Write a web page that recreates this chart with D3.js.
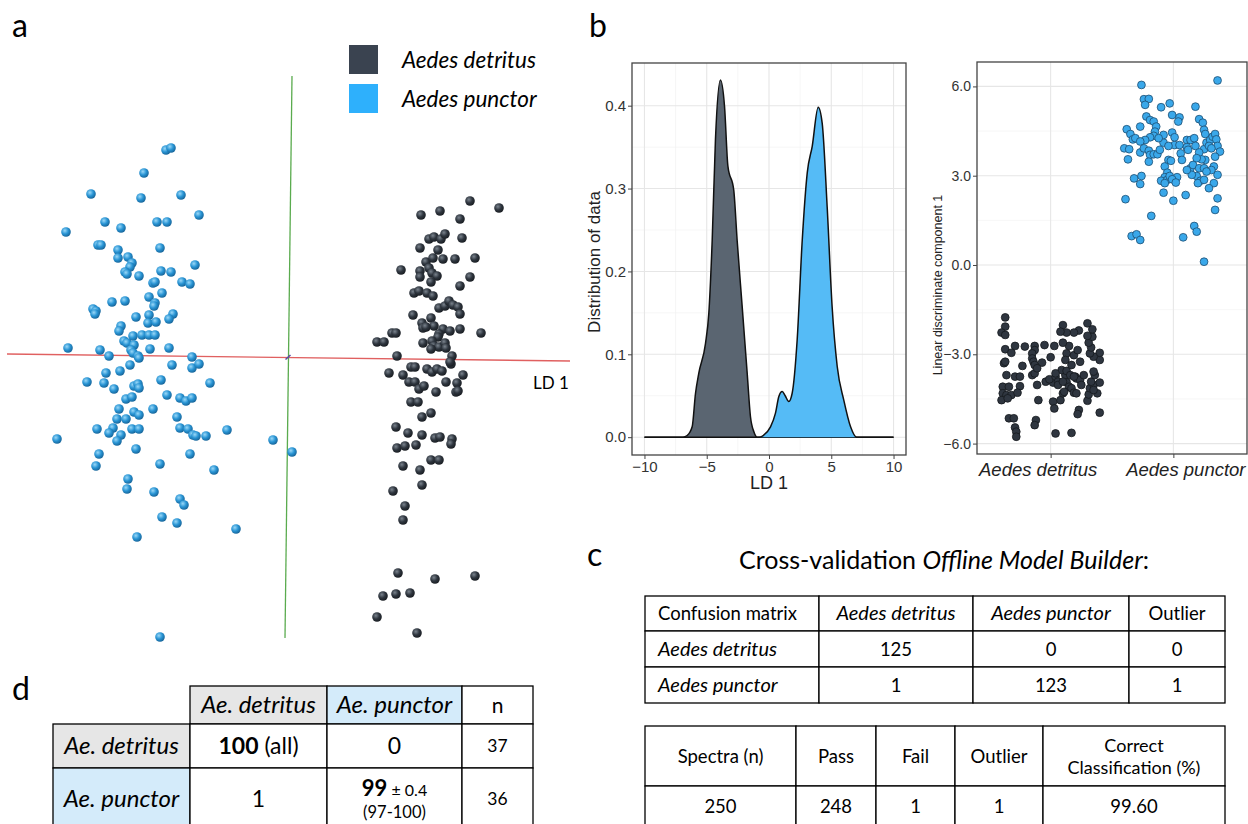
<!DOCTYPE html>
<html>
<head>
<meta charset="utf-8">
<script src="https://cdn.jsdelivr.net/npm/d3@7"></script>
<style>
body{margin:0;background:#fff}
svg{display:block}
.cal{font-family:Lato, "Open Sans", sans-serif}
.gg{font-family:"Liberation Sans", Arial, sans-serif}
</style>
</head>
<body>
<svg id="fig" width="1248" height="824"></svg>
<script>
// ---- data ----
const species = ["Aedes detritus", "Aedes punctor"]

// panel a: 3D LDA view, [LD1 projection, LD2 projection]
const puncLD3d = [[-12.2,20.7],[-11.7,20.9],[-14.4,18.4],[-19.7,16.3],[-14.7,15.9],[-10.7,16.2],[-8.9,14.2],[-18.3,13.5],[-13.1,13.5],[-12.1,13.5],
  [-16.7,12.9],[-22.2,12.5],[-19.0,11.2],[-18.7,11.2],[-12.8,10.9],[-17.0,10.7],[-17.0,9.9],[-16.0,10.0],[-15.6,9.4],[-15.8,9.0],
  [-16.3,8.5],[-16.1,8.3],[-14.9,8.1],[-12.7,8.6],[-11.7,8.5],[-9.3,9.2],[-10.6,7.5],[-9.8,7.3],[-13.5,7.4],[-13.3,7.5],
  [-12.6,6.4],[-13.9,6.0],[-17.6,5.5],[-16.3,5.6],[-13.3,5.4],[-13.4,5.1],[-19.5,4.8],[-19.2,4.6],[-19.3,4.3],[-15.2,4.0],
  [-13.9,4.2],[-14.0,3.4],[-13.2,3.5],[-11.5,4.3],[-11.9,3.8],[-16.7,3.1],[-16.9,2.6],[-15.5,2.1],[-14.6,2.2],[-13.9,2.2],
  [-13.3,2.2],[-16.4,1.6],[-16.1,1.4],[-15.4,1.2],[-22.0,0.9],[-18.8,0.7],[-13.8,0.8],[-11.9,0.9],[-15.7,0.7],[-15.5,0.4],
  [-15.0,0.1],[-14.9,-0.1],[-17.9,0.1],[-9.6,0.0],[-15.8,-0.8],[-11.6,-0.8],[-9.6,-1.1],[-8.9,-0.7],[-18.2,-1.6],[-16.8,-1.4],
  [-20.1,-2.5],[-18.4,-2.6],[-17.4,-3.2],[-15.4,-2.9],[-15.0,-2.7],[-14.9,-3.1],[-12.7,-2.3],[-7.8,-2.6],[-12.1,-3.8],[-16.2,-4.2],
  [-15.6,-4.0],[-10.8,-4.1],[-10.2,-4.4],[-9.6,-4.1],[-16.9,-5.2],[-15.4,-5.5],[-14.9,-5.8],[-13.5,-5.2],[-17.1,-6.2],[-16.2,-6.2],
  [-11.1,-6.0],[-19.1,-7.2],[-17.5,-7.1],[-17.9,-7.6],[-15.6,-7.2],[-14.9,-7.2],[-10.8,-7.1],[-10.0,-7.2],[-9.5,-7.8],[-9.2,-7.9],
  [-8.2,-7.9],[-6.1,-7.3],[-16.7,-7.8],[-17.1,-8.4],[-23.1,-8.2],[-1.5,-8.3],[0.4,-9.5],[-15.2,-9.2],[-18.9,-9.7],[-9.8,-9.7],
  [-19.2,-10.9],[-12.8,-10.7],[-7.4,-11.3],[-16.0,-12.2],[-16.1,-13.2],[-13.4,-13.5],[-10.8,-14.2],[-10.4,-14.8],[-12.6,-16.0],[-11.1,-16.6],
  [-5.2,-17.2],[-15.1,-18.0],[-12.8,-28.0]]
const detrLD3d = [[18.2,15.6],[21.1,14.9],[13.3,14.2],[15.2,14.6],[17.2,13.8],[14.1,11.8],[14.6,12.0],[15.3,11.8],[15.7,12.3],[17.4,11.9],
  [13.2,10.9],[15.0,10.7],[13.8,9.5],[14.5,9.9],[15.5,9.8],[16.7,9.8],[18.7,9.9],[11.3,8.7],[13.2,8.6],[13.2,8.0],
  [14.1,8.9],[14.4,8.4],[14.9,8.1],[14.3,7.5],[18.2,8.0],[17.2,7.1],[12.6,6.4],[13.1,6.6],[13.9,6.4],[14.5,6.1],
  [15.1,4.9],[15.7,5.1],[16.1,5.6],[16.5,5.2],[17.0,5.0],[17.2,4.3],[12.5,4.2],[14.3,3.9],[13.4,3.4],[13.5,2.9],
  [14.6,3.1],[13.8,3.0],[15.5,2.8],[16.2,2.6],[15.1,2.3],[15.0,2.0],[17.2,2.8],[19.3,2.4],[10.4,2.4],[10.8,2.4],
  [8.9,1.5],[9.6,1.5],[13.5,1.4],[14.4,1.6],[14.6,1.1],[15.1,1.0],[15.7,1.4],[15.8,0.9],[14.3,0.8],[10.9,0.1],
  [16.4,0.1],[12.3,-1.0],[12.7,-1.0],[16.3,-0.7],[16.2,-0.5],[13.9,-1.2],[14.4,-1.5],[14.9,-1.2],[15.4,-1.4],[17.5,-1.8],
  [10.1,-1.6],[11.5,-1.8],[12.1,-2.5],[12.7,-2.5],[13.1,-3.2],[13.6,-2.9],[14.8,-3.5],[15.8,-2.5],[16.9,-2.6],[16.8,-3.5],
  [17.0,-3.4],[12.3,-4.5],[13.0,-4.5],[13.4,-6.0],[14.3,-5.6],[10.8,-7.0],[12.0,-7.6],[13.4,-7.8],[14.7,-8.1],[15.2,-8.0],
  [16.4,-8.2],[16.3,-8.7],[10.9,-9.1],[11.7,-8.9],[12.8,-8.8],[14.3,-10.3],[15.1,-10.3],[11.5,-10.9],[13.2,-11.3],[13.4,-12.8],
  [10.5,-13.4],[11.7,-14.9],[11.5,-16.3],[11.0,-21.6],[14.7,-22.2],[18.7,-21.9],[9.5,-23.9],[10.8,-23.7],[12.2,-23.6],[8.9,-26.0],
  [12.9,-27.6]]
// projected axes of the 3D view (LD1 red, LD2 green)
const axisLD1 = [[-28.1,0.3],[28.2,-0.4]]
const axisLD2 = [[0.4,28.1],[-0.3,-28.1]]

// panel b: density of LD 1, [LD1, density]
const detrDensity = [[-10,0],[-6.9,0],[-6.57,0.002],[-6.17,0.0125],[-5.9,0.053],[-5.64,0.077],[-5.1,0.113],[-4.83,0.15],[-4.56,0.238],
  [-4.3,0.359],[-3.9,0.431],[-3.57,0.399],[-3.3,0.327],[-2.83,0.298],[-2.56,0.238],[-2.15,0.157],[-1.75,0.077],[-1.49,0.025],
  [-1.2,0.006],[-0.95,0],[10,0]]
const puncDensity = [[-10,0],[-0.8,0],[-0.47,0.002],[0.12,0.0125],[0.52,0.029],[0.79,0.049],[1.06,0.055],[1.3,0.05],[1.59,0.043],
  [1.86,0.053],[2.26,0.117],[2.67,0.238],[3.07,0.319],[3.47,0.351],[3.95,0.398],[4.27,0.379],[4.67,0.278],[5.07,0.157],
  [5.48,0.085],[6.0,0.045],[6.55,0.0125],[7.03,0],[10,0]]
const densXTicks = [-10, -5, 0, 5, 10]
const densXMinor = [-7.5, -2.5, 2.5, 7.5]
const densYTicks = [0, 0.1, 0.2, 0.3, 0.4]
const densYMinor = [0.05, 0.15, 0.25, 0.35]

// panel b: jittered LD1 per species, [jitter, LD1]
const detrJitter = [[-0.37,-1.76],[-0.37,-2.07],[-0.40,-2.27],[-0.37,-2.35],[-0.29,-2.72],[-0.37,-2.83],[-0.32,-2.95],[-0.21,-2.74],
  [-0.13,-2.72],[-0.13,-2.86],[-0.05,-2.69],[0.03,-2.72],[0.00,-3.10],[-0.15,-2.97],[-0.15,-3.14],[-0.14,-3.25],[-0.13,-3.36],
  [-0.07,-3.28],[-0.23,-3.39],[-0.38,-3.30],[-0.37,-3.25],[-0.36,-3.70],[-0.29,-3.75],[-0.39,-4.09],[-0.39,-4.31],[-0.34,-4.09],
  [-0.25,-4.07],[-0.36,-4.37],[-0.32,-4.37],[-0.27,-4.29],[-0.40,-4.54],[-0.35,-4.48],[-0.15,-3.70],[-0.13,-3.64],[-0.11,-3.47],
  [-0.11,-4.03],[-0.10,-4.54],[-0.34,-5.15],[-0.30,-5.15],[-0.29,-5.46],[-0.28,-5.60],[-0.28,-5.77],[-0.12,-5.21],[-0.13,-5.38],
  [0.04,-5.66],[0.17,-5.64],[0.02,-4.59],[0.03,-4.82],[0.08,-4.54],[0.10,-4.31],[0.02,-3.95],[-0.04,-3.92],[-0.01,-3.84],
  [0.04,-3.75],[0.06,-3.92],[0.13,-3.94],[0.12,-3.70],[0.09,-3.53],[0.13,-3.56],[0.16,-3.70],[0.20,-3.75],[0.21,-3.81],
  [0.24,-3.86],[0.25,-4.03],[0.15,-4.09],[0.17,-4.14],[0.19,-4.29],[0.11,-4.26],[0.21,-4.31],[0.23,-4.87],[0.22,-5.01],
  [0.30,-4.56],[0.31,-4.35],[0.32,-4.14],[0.35,-4.03],[0.40,-3.95],[0.40,-4.96],[0.38,-4.31],[0.35,-4.20],[0.33,-3.92],
  [0.36,-3.70],[0.35,-3.58],[0.40,-3.19],[0.40,-2.95],[0.35,-3.08],[0.32,-2.97],[0.33,-2.77],[0.31,-2.61],[0.34,-2.41],
  [0.34,-2.16],[0.30,-1.96],[0.30,-2.38],[0.23,-2.20],[0.19,-2.27],[0.10,-2.02],[0.13,-2.27],[0.08,-2.24],[0.13,-2.97],
  [0.19,-3.03],[0.15,-2.72],[0.10,-2.61],[0.22,-2.86],[0.24,-3.25],[0.27,-3.70],[0.12,-3.19],[0.17,-3.36],[0.19,-3.75],
  [0.04,-3.64],[0.06,-4.03],[0.10,-3.92],[-0.25,-3.75]]
const puncJitter = [[-0.26,6.05],[0.36,6.20],[-0.24,5.57],[-0.20,5.58],[-0.23,5.38],[-0.10,5.30],[0.18,5.32],[-0.01,5.04],[0.05,4.96],
  [-0.22,4.99],[-0.19,4.87],[-0.16,4.82],[-0.14,4.65],[-0.15,4.48],[-0.16,4.34],[-0.19,4.29],[-0.23,4.20],[-0.27,4.65],[-0.38,4.56],
  [-0.35,4.40],[-0.33,4.22],[-0.31,4.26],[-0.40,3.92],[-0.36,3.89],[-0.37,3.55],[-0.27,4.15],[-0.27,3.78],[-0.24,3.92],[-0.20,3.84],
  [-0.19,3.70],[-0.20,3.47],[-0.16,3.72],[-0.13,3.72],[-0.11,3.87],[-0.08,4.11],[-0.01,4.45],[0.01,4.03],[0.05,4.03],[0.11,4.20],
  [0.14,4.20],[0.11,3.96],[0.06,3.75],[0.07,3.53],[-0.04,3.53],[-0.02,3.50],[-0.07,3.31],[-0.05,3.10],[-0.07,2.95],[-0.10,2.83],
  [-0.05,2.86],[0.03,2.95],[-0.03,2.99],[-0.01,2.88],[0.02,2.77],[-0.07,2.75],[-0.08,2.43],[0.00,2.16],[0.10,2.35],[0.14,3.25],
  [0.16,3.36],[0.19,2.99],[0.21,3.25],[0.22,2.83],[0.20,2.75],[0.25,2.86],[0.26,3.53],[0.23,3.55],[0.21,4.90],[0.24,4.78],
  [0.25,4.54],[0.26,4.40],[0.25,3.89],[0.27,4.11],[0.30,4.20],[0.32,4.31],[0.34,4.40],[0.35,4.22],[0.36,4.00],[0.38,3.81],
  [0.34,3.64],[0.33,3.31],[0.36,3.03],[0.33,2.75],[0.29,2.58],[0.36,2.24],[0.34,1.85],[-0.32,2.91],[-0.26,2.99],[-0.27,2.72],
  [-0.39,2.21],[-0.18,1.65],[-0.34,0.97],[-0.30,1.03],[-0.27,0.84],[0.08,0.93],[0.17,1.31],[0.19,1.12],[0.25,0.11],[0.04,4.82],
  [-0.03,5.43],[-0.08,4.37],[-0.04,4.00],[0.01,4.29],[0.12,3.87],[0.17,4.26],[0.18,4.00],[0.21,3.78],[0.29,4.00],[0.31,3.92],
  [0.25,3.25],[0.31,3.19],[0.27,3.14],[0.15,3.03],[0.11,3.19],[0.19,3.59],[-0.12,4.26]]
const scatYTicks = [-6, -3, 0, 3, 6]
const scatYMinor = [-4.5, -1.5, 1.5, 4.5]

// panel c: cross-validation tables
const cmHeader = ["Confusion matrix", "Aedes detritus", "Aedes punctor", "Outlier"]
const cmRows = [["Aedes detritus", "125", "0", "0"], ["Aedes punctor", "1", "123", "1"]]
const sumHeader = [["Spectra (n)"], ["Pass"], ["Fail"], ["Outlier"], ["Correct", "Classification (%)"]]
const sumValues = ["250", "248", "1", "1", "99.60"]

// panel d: identification (%) of field samples
const idHeader = ["Ae. detritus", "Ae. punctor", "n"]
const idRowLabels = ["Ae. detritus", "Ae. punctor"]
const idPercent = [[100, 0], [1, 99]]
const idNote = [["(all)", ""], ["", "± 0.4"]]
const idRange = [["", ""], ["", "(97-100)"]]
const idN = [37, 36]

// ---- drawing ----
const svg = d3.select("#fig")
const defs = svg.append("defs")
const DARK = "#2f3640"

function addSphere(id, light, mid, dark){
  const gr = defs.append("radialGradient").attr("id", id)
    .attr("cx", "38%").attr("cy", "35%").attr("r", "65%")
  gr.append("stop").attr("offset", "0%").attr("stop-color", light)
  gr.append("stop").attr("offset", "55%").attr("stop-color", mid)
  gr.append("stop").attr("offset", "100%").attr("stop-color", dark)
}
addSphere("sphBlue", "#9ad8f8", "#2894d4", "#18679c")
addSphere("sphDark", "#7a838d", "#2e353e", "#1a1e23")

function panelLabel(txt, x, y){
  svg.append("text").attr("class", "cal").attr("x", x).attr("y", y)
    .style("font-size", "32px").text(txt)
}

// panel a
function drawPanelA(){
  const g = svg.append("g")
  const x = d3.scaleLinear().domain([-30, 30]).range([-12, 588])
  const y = d3.scaleLinear().domain([-30, 30]).range([657, 57])
  const line = d3.line().x(d => x(d[0])).y(d => y(d[1]))
  g.append("path").attr("d", line(axisLD1)).attr("stroke", "#e06060").attr("stroke-width", 1.3).attr("fill", "none")
  g.append("path").attr("d", line(axisLD2)).attr("stroke", "#5aab4e").attr("stroke-width", 1.3).attr("fill", "none")
  g.append("path").attr("d", line([[-0.25,-0.25],[0.25,0.2]])).attr("stroke", "#5a4aa8").attr("stroke-width", 1.5)

  g.selectAll(".sp-p").data(puncLD3d).join("circle").attr("class", "sp-p")
    .attr("cx", d => x(d[0])).attr("cy", d => y(d[1])).attr("r", 4.8)
    .attr("fill", "url(#sphBlue)")
  g.selectAll(".sp-d").data(detrLD3d).join("circle").attr("class", "sp-d")
    .attr("cx", d => x(d[0])).attr("cy", d => y(d[1])).attr("r", 4.8)
    .attr("fill", "url(#sphDark)")

  g.append("text").attr("class", "cal").attr("x", 533).attr("y", 389)
    .style("font-size", "17px").text("LD 1")

  // legend
  const lg = g.append("g")
  const colors = ["#3a4350", "#2eb0fc"]
  species.forEach((s, i) => {
    lg.append("rect").attr("x", 349).attr("y", 45 + i*39).attr("width", 29).attr("height", 29)
      .attr("fill", colors[i])
    lg.append("text").attr("class", "cal").attr("x", 402).attr("y", 68 + i*39)
      .style("font-size", "22.5px").style("font-style", "italic").text(s)
  })
}

// panel b, density
function drawDensity(){
  const g = svg.append("g").attr("class", "gg")
  const L = 632, R = 906, T = 63, B = 455
  const x = d3.scaleLinear().domain([-11, 11]).range([L, R])
  const y = d3.scaleLinear().domain([-0.0215, 0.4515]).range([B, T])
  g.append("rect").attr("x", L).attr("y", T).attr("width", R-L).attr("height", B-T).attr("fill", "#fff")
  g.selectAll(".vminor").data(densXMinor).join("line").attr("x1", d => x(d)).attr("x2", d => x(d))
    .attr("y1", T).attr("y2", B).attr("stroke", "#f2f2f2").attr("stroke-width", 0.7)
  g.selectAll(".hminor").data(densYMinor).join("line").attr("y1", d => y(d)).attr("y2", d => y(d))
    .attr("x1", L).attr("x2", R).attr("stroke", "#f2f2f2").attr("stroke-width", 0.7)
  g.selectAll(".vmajor").data(densXTicks).join("line").attr("x1", d => x(d)).attr("x2", d => x(d))
    .attr("y1", T).attr("y2", B).attr("stroke", "#e6e6e6").attr("stroke-width", 1.1)
  g.selectAll(".hmajor").data(densYTicks).join("line").attr("y1", d => y(d)).attr("y2", d => y(d))
    .attr("x1", L).attr("x2", R).attr("stroke", "#e6e6e6").attr("stroke-width", 1.1)

  const area = d3.area().x(d => x(d[0])).y0(y(0)).y1(d => y(d[1])).curve(d3.curveMonotoneX)
  const line = d3.line().x(d => x(d[0])).y(d => y(d[1])).curve(d3.curveMonotoneX)
  ;[[detrDensity, "#5a6571"], [puncDensity, "#55bbf6"]].forEach(([data, col]) => {
    g.append("path").attr("d", area(data)).attr("fill", col)
    g.append("path").attr("d", line(data)).attr("fill", "none").attr("stroke", "#111").attr("stroke-width", 1.5)
  })
  g.append("rect").attr("x", L).attr("y", T).attr("width", R-L).attr("height", B-T)
    .attr("fill", "none").attr("stroke", "#444").attr("stroke-width", 1.3)

  const xa = g.append("g").attr("transform", `translate(0,${B})`)
    .call(d3.axisBottom(x).tickValues(densXTicks).tickSize(4).tickPadding(2))
  const ya = g.append("g").attr("transform", `translate(${L},0)`)
    .call(d3.axisLeft(y).tickValues(densYTicks).tickFormat(d3.format(".1f")).tickSize(4).tickPadding(2))
  ;[xa, ya].forEach(a => {
    a.select(".domain").remove()
    a.selectAll("line").attr("stroke", "#444")
    a.selectAll("text").attr("fill", "#333").style("font-size", "15px").style("font-family", "Liberation Sans, Arial")
  })
  g.append("text").attr("transform", "translate(600,262) rotate(-90)").attr("text-anchor", "middle")
    .style("font-size", "17px").attr("fill", "#222").text("Distribution of data")
  g.append("text").attr("x", x(0)).attr("y", 489).attr("text-anchor", "middle")
    .style("font-size", "18px").attr("fill", "#222").text("LD 1")
}

// panel b, jitter plot
function drawJitter(){
  const g = svg.append("g").attr("class", "gg")
  const L = 977, R = 1247, T = 62, B = 454
  const x = d3.scaleLinear().domain([0.4, 2.6]).range([L, R])
  const y = d3.scaleLinear().domain([-6.35, 6.82]).range([B, T])
  g.selectAll(".hminor").data(scatYMinor).join("line").attr("y1", d => y(d)).attr("y2", d => y(d))
    .attr("x1", L).attr("x2", R).attr("stroke", "#f2f2f2").attr("stroke-width", 0.7)
  g.selectAll(".hmajor").data(scatYTicks).join("line").attr("y1", d => y(d)).attr("y2", d => y(d))
    .attr("x1", L).attr("x2", R).attr("stroke", "#e6e6e6").attr("stroke-width", 1.1)
  g.selectAll(".vmajor").data([1, 2]).join("line").attr("x1", d => x(d)).attr("x2", d => x(d))
    .attr("y1", T).attr("y2", B).attr("stroke", "#e6e6e6").attr("stroke-width", 1.1)

  g.selectAll(".pt-d").data(detrJitter).join("circle").attr("class", "pt-d")
    .attr("cx", d => x(1 + d[0])).attr("cy", d => y(d[1])).attr("r", 3.9)
    .attr("fill", DARK).attr("stroke", "#15191d").attr("stroke-width", 0.8)
  g.selectAll(".pt-p").data(puncJitter).join("circle").attr("class", "pt-p")
    .attr("cx", d => x(2 + d[0])).attr("cy", d => y(d[1])).attr("r", 3.9)
    .attr("fill", "#3aa8ea").attr("stroke", "#1d4e72").attr("stroke-width", 0.8)

  g.append("rect").attr("x", L).attr("y", T).attr("width", R-L).attr("height", B-T)
    .attr("fill", "none").attr("stroke", "#444").attr("stroke-width", 1.3)

  const ya = g.append("g").attr("transform", `translate(${L},0)`)
    .call(d3.axisLeft(y).tickValues(scatYTicks).tickFormat(d3.format(".1f")).tickSize(4).tickPadding(2))
  const xa = g.append("g").attr("transform", `translate(0,${B})`)
    .call(d3.axisBottom(x).tickValues([1, 2]).tickFormat((d, i) => species[i]).tickSize(4).tickPadding(5))
  ;[xa, ya].forEach(a => {
    a.select(".domain").remove()
    a.selectAll("line").attr("stroke", "#444")
    a.selectAll("text").attr("fill", "#333").style("font-family", "Liberation Sans, Arial")
  })
  ya.selectAll("text").style("font-size", "14px")
  // labels in the figure sit slightly apart from their ticks
  xa.selectAll("text").style("font-size", "18.5px").style("font-style", "italic").attr("fill", "#222")
    .attr("dx", (d, i) => i === 0 ? -13 : 12)
  g.append("text").attr("transform", "translate(942,285) rotate(-90)").attr("text-anchor", "middle")
    .style("font-size", "12.5px").attr("fill", "#222").text("Linear discriminate component 1")
}

function cellText(g, x, y, txt, size, anchor, italic){
  return g.append("text").attr("class", "cal").attr("x", x).attr("y", y)
    .attr("text-anchor", anchor).style("font-size", size + "px")
    .style("font-style", italic ? "italic" : "normal").text(txt)
}
const isSpecies = t => species.includes(t) || idHeader.slice(0, 2).includes(t)

// panel c
function drawPanelC(){
  const g = svg.append("g")
  g.append("text").attr("class", "cal").attr("x", 944).attr("y", 569).attr("text-anchor", "middle")
    .style("font-size", "25px")
    .call(t => { t.append("tspan").text("Cross-validation ")
                 t.append("tspan").style("font-style", "italic").text("Offline Model Builder")
                 t.append("tspan").text(":") })

  const cx = [645, 819, 973, 1129, 1225], ry = [596, 631, 667, 703]
  const rows = [cmHeader].concat(cmRows)
  rows.forEach((row, r) => row.forEach((v, c) => {
    g.append("rect").attr("x", cx[c]).attr("y", ry[r]).attr("width", cx[c+1]-cx[c]).attr("height", ry[r+1]-ry[r])
      .attr("fill", "#fff").attr("stroke", "#000").attr("stroke-width", 1.3)
    const mid = (ry[r] + ry[r+1]) / 2 + 6.5
    const sz = isSpecies(v) ? 20 : 18.5
    if(c === 0) cellText(g, cx[0] + 13, mid, v, sz, "start", isSpecies(v))
    else cellText(g, (cx[c] + cx[c+1]) / 2, mid, v, sz, "middle", isSpecies(v))
  }))

  const sx = [645, 796, 876, 955, 1043, 1225], sy = [726, 786, 827]
  sumHeader.forEach((lines, c) => {
    g.append("rect").attr("x", sx[c]).attr("y", sy[0]).attr("width", sx[c+1]-sx[c]).attr("height", sy[1]-sy[0])
      .attr("fill", "#fff").attr("stroke", "#000").attr("stroke-width", 1.3)
    const xm = (sx[c] + sx[c+1]) / 2
    if(lines.length === 1) cellText(g, xm, 763, lines[0], 18.5, "middle", false)
    else lines.forEach((l, i) => cellText(g, xm, 752 + i*22, l, 18, "middle", false))
  })
  sumValues.forEach((v, c) => {
    g.append("rect").attr("x", sx[c]).attr("y", sy[1]).attr("width", sx[c+1]-sx[c]).attr("height", sy[2]-sy[1])
      .attr("fill", "#fff").attr("stroke", "#000").attr("stroke-width", 1.3)
    cellText(g, (sx[c] + sx[c+1]) / 2, 813, v, 18.5, "middle", false)
  })
}

// panel d
function drawPanelD(){
  const g = svg.append("g")
  const cx = [53, 190, 327, 462, 533], ry = [686, 724, 768, 830]
  const fills = ["#e6e6e6", "#d4ebfa", "#fff"]
  const box = (c, r, fill) => g.append("rect").attr("x", cx[c]).attr("y", ry[r])
    .attr("width", cx[c+1]-cx[c]).attr("height", ry[r+1]-ry[r])
    .attr("fill", fill).attr("stroke", "#000").attr("stroke-width", 1.3)
  idHeader.forEach((h, i) => {
    box(i + 1, 0, fills[i])
    cellText(g, (cx[i+1] + cx[i+2]) / 2, 713, h, i < 2 ? 24 : 21, "middle", i < 2)
  })
  idRowLabels.forEach((lab, r) => {
    const yMid = (ry[r+1] + ry[r+2]) / 2
    box(0, r + 1, fills[r])
    cellText(g, (cx[0] + cx[1]) / 2, yMid + 8, lab, 24, "middle", true)
    idPercent[r].forEach((p, c) => {
      box(c + 1, r + 1, "#fff")
      const xm = (cx[c+1] + cx[c+2]) / 2
      const note = idNote[r][c], rng = idRange[r][c]
      const boldIt = (r === c)
      const t = g.append("text").attr("class", "cal").attr("x", xm).attr("text-anchor", "middle")
        .attr("y", rng ? yMid - 3 : yMid + 8).style("font-size", rng ? "22px" : "23px")
      t.append("tspan").style("font-weight", boldIt ? "bold" : "normal").text(p)
      if(note) t.append("tspan").style("font-size", rng ? "16px" : "23px").text(" " + note)
      if(rng) cellText(g, xm, yMid + 19, rng, 16.5, "middle", false)
    })
    box(3, r + 1, "#fff")
    cellText(g, (cx[3] + cx[4]) / 2, yMid + 6, String(idN[r]), 17.5, "middle", false)
  })
}

drawPanelA()
drawDensity()
drawJitter()
drawPanelC()
drawPanelD()
panelLabel("a", 12, 37)
panelLabel("b", 589, 37)
panelLabel("c", 587, 566)
panelLabel("d", 12, 700)
</script>
</body>
</html>
